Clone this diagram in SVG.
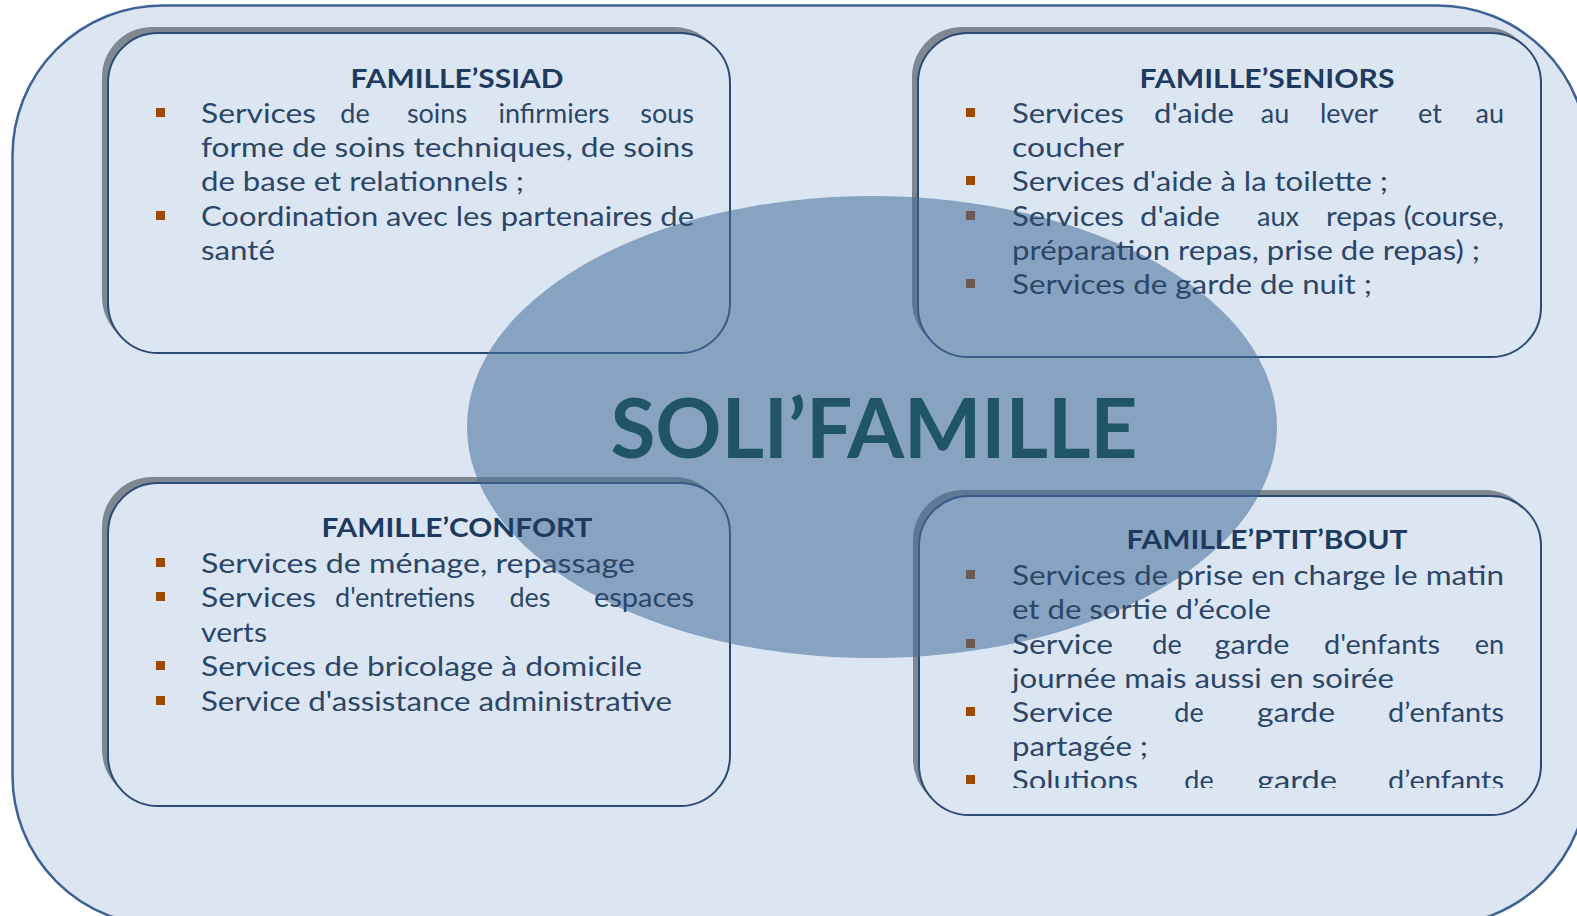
<svg xmlns="http://www.w3.org/2000/svg" width="1577" height="916" viewBox="0 0 1577 916">
<style>
.t{font-family:Lato,"Liberation Sans",sans-serif;font-size:27px;fill:#2b4668}
.h{font-family:Lato,"Liberation Sans",sans-serif;font-size:27px;font-weight:700;fill:#1f3a5f;text-anchor:middle}
.m{text-anchor:middle}
.e{text-anchor:end}
.sh{fill:#7f8791}
.bx{fill:#dce6f2;stroke:#2b4a75;stroke-width:2}
.bl{fill:#9e4800}
</style>
<defs>
<clipPath id="clipPB"><rect x="900" y="480" width="660" height="308"/></clipPath>
</defs>
<rect width="1577" height="916" fill="#ffffff"/>
<rect id="frame" x="12.5" y="5.5" width="1575" height="920" rx="150" fill="#dce6f2" stroke="#3d6195" stroke-width="2.5"/>

<g id="box-ssiad-shape">
<rect class="sh" x="102" y="27" width="622" height="320" rx="50"/>
<rect class="bx" x="108" y="33" width="622" height="320" rx="50"/>
<rect class="bl" x="156" y="108" width="9" height="9"/>
<rect class="bl" x="156" y="211" width="9" height="9"/>
</g>
<g id="box-seniors-shape">
<rect class="sh" x="912" y="27" width="623" height="324" rx="50"/>
<rect class="bx" x="918" y="33" width="623" height="324" rx="50"/>
<rect class="bl" x="966" y="108" width="9" height="9"/>
<rect class="bl" x="966" y="176" width="9" height="9"/>
<rect class="bl" x="966" y="211" width="9" height="9"/>
<rect class="bl" x="966" y="279" width="9" height="9"/>
</g>
<g id="box-confort-shape">
<rect class="sh" x="102" y="477" width="622" height="323" rx="50"/>
<rect class="bx" x="108" y="483" width="622" height="323" rx="50"/>
<rect class="bl" x="156" y="558" width="9" height="9"/>
<rect class="bl" x="156" y="592" width="9" height="9"/>
<rect class="bl" x="156" y="661" width="9" height="9"/>
<rect class="bl" x="156" y="696" width="9" height="9"/>
</g>
<g id="box-ptitbout-shape">
<rect class="sh" x="913" y="490" width="622" height="319" rx="50"/>
<rect class="bx" x="919" y="496" width="622" height="319" rx="50"/>
<rect class="bl" x="966" y="570" width="9" height="9"/>
<rect class="bl" x="966" y="639" width="9" height="9"/>
<rect class="bl" x="966" y="707" width="9" height="9"/>
<rect class="bl" x="966" y="775" width="9" height="9"/>
</g>

<g id="center">
<ellipse cx="872" cy="427" rx="405" ry="231" fill="#436c9b" fill-opacity="0.55"/>
<text x="874" y="458" font-family="Lato,'Liberation Sans',sans-serif" font-weight="700" font-size="82" fill="#1f5565" text-anchor="middle" textLength="527" lengthAdjust="spacing">SOLI’FAMILLE</text>
</g>

<g id="ssiad">
<text class="h" x="457" y="88" textLength="213" lengthAdjust="spacingAndGlyphs">FAMILLE’SSIAD</text>
<text class="t" x="201" y="123" textLength="115" lengthAdjust="spacingAndGlyphs">Services</text>
<text class="t m" x="355" y="123">de</text>
<text class="t m" x="437" y="123">soins</text>
<text class="t m" x="554" y="123">infirmiers</text>
<text class="t e" x="694" y="123">sous</text>
<text class="t" x="201" y="157" textLength="493" lengthAdjust="spacingAndGlyphs">forme de soins techniques, de soins</text>
<text class="t" x="201" y="191" textLength="323" lengthAdjust="spacingAndGlyphs">de base et relationnels ;</text>
<text class="t" x="201" y="226" textLength="493" lengthAdjust="spacingAndGlyphs">Coordination avec les partenaires de</text>
<text class="t" x="201" y="260" textLength="74" lengthAdjust="spacingAndGlyphs">santé</text>
</g>

<g id="seniors">
<text class="h" x="1267" y="88" textLength="255" lengthAdjust="spacingAndGlyphs">FAMILLE’SENIORS</text>
<text class="t" x="1012" y="123" textLength="112" lengthAdjust="spacingAndGlyphs">Services</text>
<text class="t m" x="1194" y="123" textLength="80" lengthAdjust="spacingAndGlyphs">d'aide</text>
<text class="t m" x="1275" y="123">au</text>
<text class="t m" x="1349" y="123">lever</text>
<text class="t m" x="1430" y="123">et</text>
<text class="t e" x="1504" y="123">au</text>
<text class="t" x="1012" y="157" textLength="112" lengthAdjust="spacingAndGlyphs">coucher</text>
<text class="t" x="1012" y="191" textLength="376" lengthAdjust="spacingAndGlyphs">Services d'aide à la toilette ;</text>
<text class="t" x="1012" y="226" textLength="112" lengthAdjust="spacingAndGlyphs">Services</text>
<text class="t m" x="1180" y="226" textLength="80" lengthAdjust="spacingAndGlyphs">d'aide</text>
<text class="t m" x="1278" y="226">aux</text>
<text class="t e" x="1504" y="226" textLength="178" lengthAdjust="spacingAndGlyphs">repas (course,</text>
<text class="t" x="1012" y="260" textLength="468" lengthAdjust="spacingAndGlyphs">préparation repas, prise de repas) ;</text>
<text class="t" x="1012" y="294" textLength="360" lengthAdjust="spacingAndGlyphs">Services de garde de nuit ;</text>
</g>

<g id="confort">
<text class="h" x="457" y="537" textLength="271" lengthAdjust="spacingAndGlyphs">FAMILLE’CONFORT</text>
<text class="t" x="201" y="573" textLength="434" lengthAdjust="spacingAndGlyphs">Services de ménage, repassage</text>
<text class="t" x="201" y="607" textLength="115" lengthAdjust="spacingAndGlyphs">Services</text>
<text class="t m" x="405" y="607">d'entretiens</text>
<text class="t m" x="530" y="607">des</text>
<text class="t e" x="694" y="607" textLength="100" lengthAdjust="spacingAndGlyphs">espaces</text>
<text class="t" x="201" y="642" textLength="66" lengthAdjust="spacingAndGlyphs">verts</text>
<text class="t" x="201" y="676" textLength="441" lengthAdjust="spacingAndGlyphs">Services de bricolage à domicile</text>
<text class="t" x="201" y="711" textLength="471" lengthAdjust="spacingAndGlyphs">Service d'assistance administrative</text>
</g>

<g id="ptitbout">
<text class="h" x="1267" y="549" textLength="281" lengthAdjust="spacingAndGlyphs">FAMILLE’PTIT’BOUT</text>
<text class="t" x="1012" y="585" textLength="492" lengthAdjust="spacingAndGlyphs">Services de prise en charge le matin</text>
<text class="t" x="1012" y="619" textLength="259" lengthAdjust="spacingAndGlyphs">et de sortie d’école</text>
<text class="t" x="1012" y="654" textLength="101" lengthAdjust="spacingAndGlyphs">Service</text>
<text class="t m" x="1167" y="654">de</text>
<text class="t m" x="1252" y="654" textLength="75" lengthAdjust="spacingAndGlyphs">garde</text>
<text class="t m" x="1382" y="654" textLength="116" lengthAdjust="spacingAndGlyphs">d'enfants</text>
<text class="t e" x="1504" y="654">en</text>
<text class="t" x="1012" y="688" textLength="382" lengthAdjust="spacingAndGlyphs">journée mais aussi en soirée</text>
<text class="t" x="1012" y="722" textLength="101" lengthAdjust="spacingAndGlyphs">Service</text>
<text class="t m" x="1189" y="722">de</text>
<text class="t m" x="1296" y="722" textLength="78" lengthAdjust="spacingAndGlyphs">garde</text>
<text class="t e" x="1504" y="722" textLength="116" lengthAdjust="spacingAndGlyphs">d’enfants</text>
<text class="t" x="1012" y="756" textLength="136" lengthAdjust="spacingAndGlyphs">partagée ;</text>
<g clip-path="url(#clipPB)">
<text class="t" x="1012" y="790" textLength="126" lengthAdjust="spacingAndGlyphs">Solutions</text>
<text class="t m" x="1199" y="790">de</text>
<text class="t m" x="1297" y="790" textLength="80" lengthAdjust="spacingAndGlyphs">garde</text>
<text class="t e" x="1504" y="790" textLength="116" lengthAdjust="spacingAndGlyphs">d’enfants</text>
</g>
</g>
</svg>
